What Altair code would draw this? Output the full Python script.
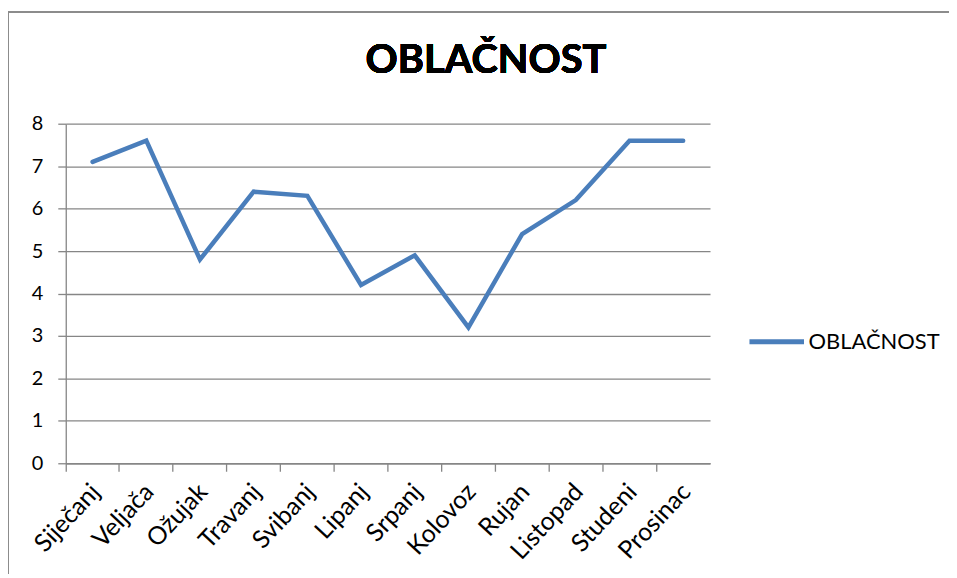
import altair as alt
import pandas as pd

months = ["Siječanj", "Veljača", "Ožujak", "Travanj", "Svibanj", "Lipanj",
          "Srpanj", "Kolovoz", "Rujan", "Listopad", "Studeni", "Prosinac"]
values = [7.1, 7.6, 4.8, 6.4, 6.3, 4.2, 4.9, 3.2, 5.4, 6.2, 7.6, 7.6]
series_name = "OBLAČNOST"
title_text = "OBLAČNOST"
y_ticks = [0, 1, 2, 3, 4, 5, 6, 7, 8]

df = pd.DataFrame({"month": months, "value": values, "series": series_name})

FONT = "Lato"
GRID = "#868686"
BLUE = "#4A7EBB"

xscale = alt.Scale(type="band", domain=months, paddingInner=0, paddingOuter=0)
yscale = alt.Scale(domain=[0, 8], nice=False)

line = alt.Chart(df).mark_line(strokeWidth=4.5, strokeCap="round", strokeJoin="miter").encode(
    x=alt.X("month:N", sort=months, scale=xscale, title=None,
            axis=alt.Axis(orient="bottom", labelAngle=-47, labelFontSize=25, labelFont=FONT,
                          labelColor="black", ticks=False, domain=False, labelPadding=24,
                          labelOffset=3, labelAlign="right", labelBaseline="middle", grid=False)),
    y=alt.Y("value:Q", scale=yscale, title=None,
            axis=alt.Axis(values=y_ticks, labelFontSize=20, labelFont=FONT, labelColor="black",
                          grid=True, gridColor=GRID, gridWidth=1.3, domainColor=GRID, domainWidth=1.3,
                          tickColor=GRID, tickSize=8, tickWidth=1.3, labelPadding=15)),
    color=alt.Color("series:N", scale=alt.Scale(range=[BLUE]),
                    legend=alt.Legend(title=None, orient="none", legendX=684, legendY=189,
                                      symbolType="stroke", symbolStrokeWidth=5, symbolSize=3000,
                                      labelFontSize=22, labelFont=FONT, labelColor="black",
                                      labelOffset=2, symbolOffset=0)),
)

ticks = alt.Chart(df).mark_line(opacity=0).encode(
    x=alt.X("month:N", sort=months, scale=xscale, title=None,
            axis=alt.Axis(orient="bottom", labels=False, ticks=True, bandPosition=0, tickSize=8,
                          tickColor=GRID, tickWidth=1.3, domain=True, domainColor=GRID,
                          domainWidth=1.3, grid=False)),
    y=alt.Y("value:Q", scale=yscale),
)

top_border = alt.Chart(df).mark_rule(stroke="#8c8c8c", strokeWidth=1.5, clip=False).encode(
    x=alt.value(-58), x2=alt.value(887), y=alt.value(-112)
)
left_border = alt.Chart(df).mark_rule(stroke="#8c8c8c", strokeWidth=1.5, clip=False).encode(
    x=alt.value(-58), y=alt.value(-112), y2=alt.value(455)
)

title = alt.Chart(df).mark_text(fontSize=40, font=FONT, fontWeight="bold", color="black",
                                align="center", baseline="alphabetic").encode(
    text=alt.value(title_text), x=alt.value(422), y=alt.value(-51)
)

chart = alt.layer(top_border, left_border, title, ticks, line).resolve_axis(x="independent").properties(
    width=647, height=341,
    autosize=alt.AutoSizeParams(type="none"),
    padding={"left": 58, "top": 115, "right": 240, "bottom": 110},
).configure_view(stroke=None)

chart.save("out.html", embed_options={"renderer": "svg", "actions": False})
